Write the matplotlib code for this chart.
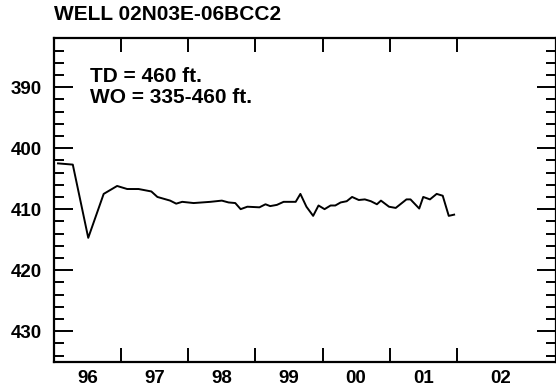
import numpy as np
import matplotlib.pyplot as plt

# water level (depth to water, ft)
years = [1996.06, 1996.28, 1996.51, 1996.74, 1996.94, 1997.09, 1997.26, 1997.45,
         1997.54, 1997.73, 1997.82, 1997.91, 1998.08, 1998.33, 1998.50, 1998.60,
         1998.70, 1998.78, 1998.88, 1999.06, 1999.15, 1999.22, 1999.32, 1999.42,
         1999.60, 1999.67, 1999.76, 1999.86, 1999.94, 2000.03, 2000.12, 2000.19,
         2000.27, 2000.36, 2000.44, 2000.54, 2000.63, 2000.72, 2000.81, 2000.87,
         2000.99, 2001.09, 2001.25, 2001.31, 2001.44, 2001.50, 2001.60, 2001.70,
         2001.79, 2001.88, 2001.96]
depth = [402.5, 402.7, 414.7, 407.5, 406.2, 406.7, 406.7, 407.1,
         408.0, 408.6, 409.1, 408.8, 409.0, 408.8, 408.6, 408.9,
         409.0, 410.0, 409.6, 409.7, 409.2, 409.5, 409.3, 408.8,
         408.8, 407.5, 409.6, 411.1, 409.4, 410.0, 409.4, 409.4,
         408.9, 408.7, 408.0, 408.5, 408.4, 408.7, 409.2, 408.6,
         409.6, 409.8, 408.4, 408.4, 409.9, 408.0, 408.4, 407.5,
         407.8, 411.1, 410.9]

year_ticks = [1997, 1998, 1999, 2000, 2001, 2002]
year_labels = ['96', '97', '98', '99', '00', '01', '02']
label_pos = [1996.5, 1997.5, 1998.5, 1999.5, 2000.5, 2001.5, 2002.65]
y_major = [390, 400, 410, 420, 430]

plt.rcParams['font.family'] = 'Liberation Sans'
plt.rcParams['font.weight'] = 'bold'

fig = plt.figure(figsize=(5.56, 3.9), dpi=100)
ax = fig.add_axes([54/556, 1 - 361.7/390, 501.5/556, (361.7 - 38.3)/390])

ax.plot(years, depth, color='black', lw=1.4)

ax.set_xlim(1996, 2003.47)
ax.set_ylim(435, 382)

ax.set_xticks(year_ticks)
ax.set_xticklabels([])
ax.set_xticks(label_pos, minor=True)
ax.set_xticklabels(year_labels, minor=True, fontsize=13.5, fontweight='bold')
ax.tick_params(axis='x', which='major', direction='in', length=10, width=1.4,
               top=True, bottom=True)
ax.tick_params(axis='x', which='minor', length=0, pad=6)

ax.set_yticks(y_major)
ax.set_yticklabels([str(v) for v in y_major], fontsize=13.5, fontweight='bold')
ax.set_yticks(np.arange(382, 436, 2), minor=True)
ax.tick_params(axis='y', which='major', direction='in', length=14, width=1.4,
               left=True, right=True, pad=9)
ax.tick_params(axis='y', which='minor', direction='in', length=7, width=1.4,
               left=True, right=True)

for s in ax.spines.values():
    s.set_linewidth(1.6)

ax.text(0.0718, 0.865, 'TD = 460 ft.', transform=ax.transAxes,
        fontsize=15, fontweight='bold', va='baseline', ha='left')
ax.text(0.0718, 0.800, 'WO = 335-460 ft.', transform=ax.transAxes,
        fontsize=15, fontweight='bold', va='baseline', ha='left')

fig.text(54/556, 1 - 20/390, 'WELL 02N03E-06BCC2', fontsize=15, fontweight='bold',
         ha='left', va='baseline')

fig.savefig('out.png', dpi=100)
